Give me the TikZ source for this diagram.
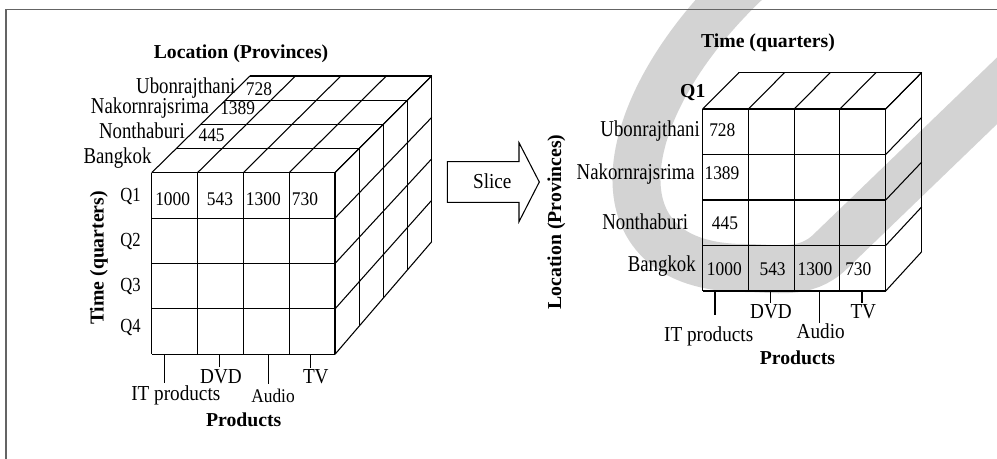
\documentclass[tikz,border=0pt]{standalone}
\usepackage{fontspec}
\setmainfont{Liberation Serif}[FakeStretch=0.9]
\newfontfamily\ttlfont{Liberation Serif}
\newfontfamily\provfont{Liberation Serif}[FakeStretch=0.83]
\usetikzlibrary{calc}
\definecolor{wm}{RGB}{211,211,211}
\definecolor{framec}{RGB}{100,100,100}
\begin{document}
\begin{tikzpicture}[x=0.75pt,y=-0.75pt,
 lab/.style={font=\fontsize{16}{19}\selectfont,inner sep=0pt},
 prov/.style={font=\provfont\fontsize{17}{20}\selectfont,inner sep=0pt},
 num/.style={font=\fontsize{14.5}{17}\selectfont,inner sep=0pt},
 qlab/.style={font=\provfont\fontsize{15}{18}\selectfont,inner sep=0pt},
 ttl/.style={font=\ttlfont\bfseries\fontsize{14.8}{17}\selectfont,inner sep=0pt},
 grid/.style={line width=0.8pt,black},
 tick/.style={line width=0.8pt,black}]
\useasboundingbox (0,0) rectangle (997,459);
% watermark
\begin{scope}
\clip (0,0) rectangle (997,459);
\draw[wm,line width=36pt] (748,-20) .. controls (610,110) and (590,268) .. (745,268)
  .. controls (775,268) and (805,276) .. (830,251.8) -- (1030,59);
\end{scope}
% frame
\draw[framec,line width=1.2pt] (6,459) -- (6,9.7) -- (997,9.7);

% ---------- left cube ----------
\foreach \i in {0,...,4}{\foreach \j in {0,...,4}{\foreach \k in {0,...,4}{
 \pgfmathsetmacro\fx{151.7+45.825*\i}
 \pgfmathsetmacro\bx{250+45.425*\i}
 \pgfmathsetmacro\fy{172.7+45.4*\j}
 \pgfmathsetmacro\by{76+41.425*\j}
 \pgfmathsetmacro\px{\fx+(\bx-\fx)*\k/4}
 \pgfmathsetmacro\py{\fy+(\by-\fy)*\k/4}
 \coordinate (L\i\j\k) at (\px,\py);
}}}
\foreach \i in {0,...,4}{\draw[grid] (L\i00) -- (L\i40); \draw[grid] (L\i00) -- (L\i04);}
\foreach \j in {0,...,4}{\draw[grid] (L0\j0) -- (L4\j0); \draw[grid] (L4\j0) -- (L4\j4);}
\foreach \k in {1,...,4}{\draw[grid] (L00\k) -- (L40\k); \draw[grid] (L40\k) -- (L44\k);}

\node[ttl,anchor=base] (locL) at (241,59) {Location (Provinces)};
\node[prov,anchor=base east] (ubL) at (235.7,93.3) {Ubonrajthani};
\node[prov,anchor=base east] (nkL) at (209.3,113.3) {Nakornrajsrima};
\node[prov,anchor=base east] (ntL) at (185,138.3) {Nonthaburi};
\node[prov,anchor=base east] (bkL) at (151.7,163.3) {Bangkok};
\node[num,anchor=base west] (v728L) at (245.7,95.7) {728};
\node[num,anchor=base west] (v1389L) at (220,115) {1389};
\node[num,anchor=base west] (v445L) at (198.3,141.7) {445};
\node[num,anchor=base west] (v1000L) at (155,206) {1000};
\node[num,anchor=base west] (v543L) at (206.7,206) {543};
\node[num,anchor=base west] (v1300L) at (245.7,206) {1300};
\node[num,anchor=base west] (v730L) at (291.7,206) {730};
\node[qlab,anchor=base east] (q1L) at (141,201.5) {Q1};
\node[qlab,anchor=base east] (q2L) at (141,246.5) {Q2};
\node[qlab,anchor=base east] (q3L) at (141,291.5) {Q3};
\node[qlab,anchor=base east] (q4L) at (141,333) {Q4};
\node[ttl,rotate=90,anchor=base] (timeL) at (103.5,258) {Time (quarters)};

\coordinate (tITa) at (164.3,354.3); \coordinate (tITb) at (164.3,383.3);
\coordinate (tDVDa) at (219.3,354.3); \coordinate (tDVDb) at (219.3,366.7);
\coordinate (tAua) at (268.3,354.3); \coordinate (tAub) at (268.3,384);
\coordinate (tTVa) at (310.7,354.3); \coordinate (tTVb) at (310.7,367.7);
\draw[tick] (tITa) -- (tITb);
\draw[tick] (tDVDa) -- (tDVDb);
\draw[tick] (tAua) -- (tAub);
\draw[tick] (tTVa) -- (tTVb);
\node[lab,anchor=base] (dvdL) at (221,383.3) {DVD};
\node[lab,anchor=base] (tvL) at (315.8,384) {TV};
\node[lab,anchor=base] (itL) at (175.8,401) {IT products};
\node[num,anchor=base] (auL) at (273,402.7) {Audio};
\node[ttl,anchor=base] (prL) at (243.7,426.7) {Products};

% ---------- slice arrow ----------
\coordinate (a1) at (447.3,161.7); \coordinate (a2) at (519,161.7); \coordinate (a3) at (519,142.7);
\coordinate (a4) at (539.3,182); \coordinate (a5) at (519,221.7); \coordinate (a6) at (519,202.3);
\coordinate (a7) at (447.3,202.3);
\draw[line width=0.8pt] (a1) -- (a2) -- (a3) -- (a4) -- (a5) -- (a6) -- (a7) -- cycle;
\node[lab,anchor=base] (slice) at (492.3,188.3) {Slice};

% ---------- right cube ----------
\foreach \i in {0,...,4}{\foreach \j in {0,...,4}{\foreach \k in {0,1}{
 \pgfmathsetmacro\fx{702.7+45.75*\i}
 \pgfmathsetmacro\bx{739+45.675*\i}
 \pgfmathsetmacro\fy{109+45.5*\j}
 \pgfmathsetmacro\by{72.5+44.8*\j}
 \pgfmathsetmacro\px{\fx+(\bx-\fx)*\k}
 \pgfmathsetmacro\py{\fy+(\by-\fy)*\k}
 \coordinate (R\i\j\k) at (\px,\py);
}}}
\foreach \i in {0,...,4}{\draw[grid] (R\i00) -- (R\i40); \draw[grid] (R\i00) -- (R\i01);}
\foreach \j in {0,...,4}{\draw[grid] (R0\j0) -- (R4\j0); \draw[grid] (R4\j0) -- (R4\j1);}
\draw[grid] (R001) -- (R401);
\draw[grid] (R401) -- (R441);

\node[ttl,anchor=base] (timeR) at (768,48) {Time (quarters)};
\node[ttl,anchor=base east] (q1R) at (705.7,97.3) {Q1};
\node[prov,anchor=base east] (ubR) at (700,136.7) {Ubonrajthani};
\node[prov,anchor=base east] (nkR) at (695,180) {Nakornrajsrima};
\node[prov,anchor=base east] (ntR) at (688.3,229.3) {Nonthaburi};
\node[prov,anchor=base east] (bkR) at (696,271.7) {Bangkok};
\node[num,anchor=base west] (v728R) at (709,136.7) {728};
\node[num,anchor=base west] (v1389R) at (704.3,180) {1389};
\node[num,anchor=base west] (v445R) at (711.7,229.3) {445};
\node[num,anchor=base west] (v1000R) at (706.7,276) {1000};
\node[num,anchor=base west] (v543R) at (759.3,276) {543};
\node[num,anchor=base west] (v1300R) at (797.3,276) {1300};
\node[num,anchor=base west] (v730R) at (845,276) {730};
\node[ttl,rotate=90,anchor=base] (locR) at (561,222) {Location (Provinces)};

\coordinate (uITa) at (715,291); \coordinate (uITb) at (715,315);
\coordinate (uDVDa) at (770.3,291); \coordinate (uDVDb) at (770.3,303.3);
\coordinate (uAua) at (819.3,291); \coordinate (uAub) at (819.3,323.3);
\coordinate (uTVa) at (862,291); \coordinate (uTVb) at (862,303.3);
\draw[tick] (uITa) -- (uITb);
\draw[tick] (uDVDa) -- (uDVDb);
\draw[tick] (uAua) -- (uAub);
\draw[tick] (uTVa) -- (uTVb);
\node[lab,anchor=base] (dvdR) at (771,318.3) {DVD};
\node[lab,anchor=base] (tvR) at (863.3,318.3) {TV};
\node[lab,anchor=base] (itR) at (708.7,341.7) {IT products};
\node[lab,anchor=base] (auR) at (820.7,338.3) {Audio};
\node[ttl,anchor=base] (prR) at (797.5,365) {Products};
\end{tikzpicture}
\end{document}
